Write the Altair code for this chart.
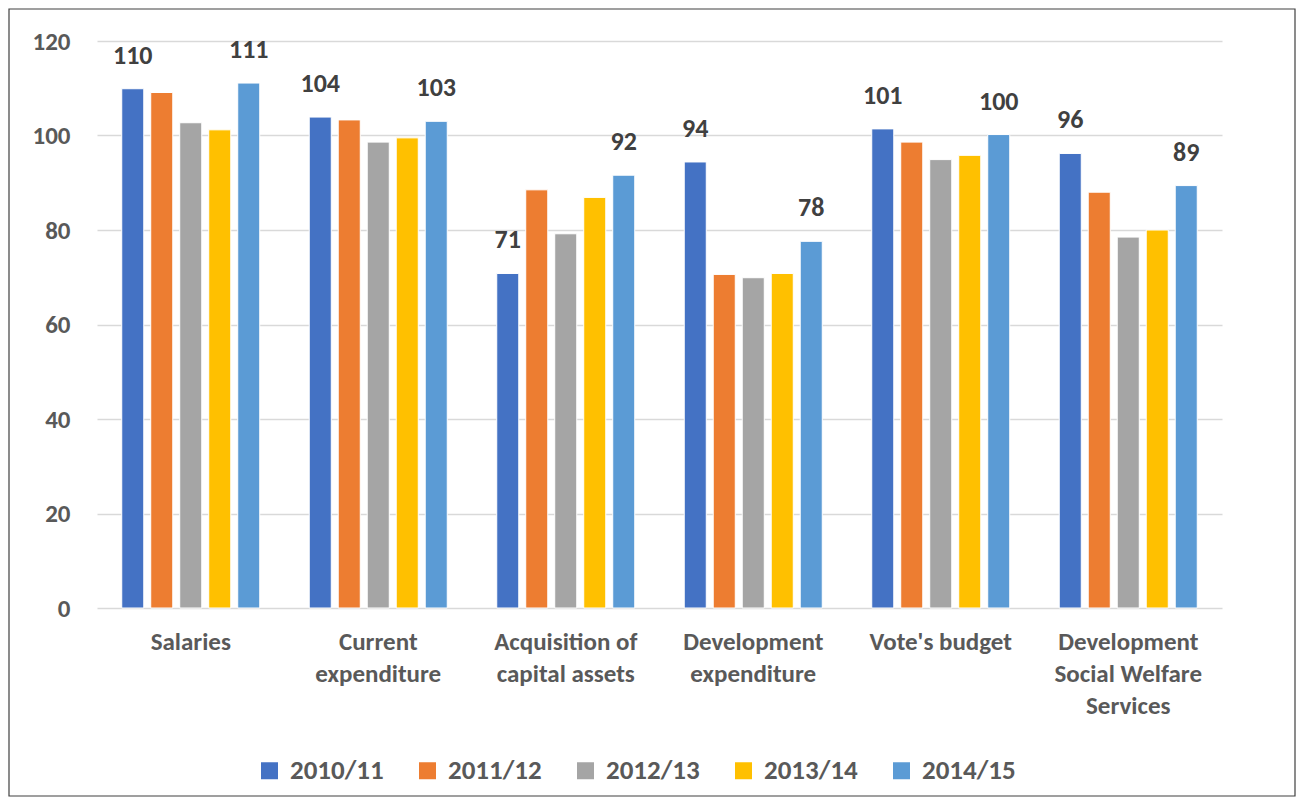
import altair as alt
import pandas as pd

categories = ["Salaries", "Current|expenditure", "Acquisition of|capital assets",
              "Development|expenditure", "Vote's budget", "Development|Social Welfare|Services"]
series = ["2010/11", "2011/12", "2012/13", "2013/14", "2014/15"]
v2010 = [109.9, 103.9, 70.8, 94.4, 101.4, 96.2]
v2011 = [109.1, 103.3, 88.5, 70.6, 98.6, 88.0]
v2012 = [102.7, 98.6, 79.2, 69.9, 94.9, 78.5]
v2013 = [101.2, 99.5, 86.9, 70.8, 95.8, 80.0]
v2014 = [111.1, 103.0, 91.6, 77.6, 100.2, 89.4]
labelled = ["2010/11", "2014/15"]
colors = ["#4472C4", "#ED7D31", "#A5A5A5", "#FFC000", "#5B9BD5"]

rows = []
for s, vals in zip(series, [v2010, v2011, v2012, v2013, v2014]):
    for c, v in zip(categories, vals):
        rows.append({"category": c, "series": s, "value": v})
df = pd.DataFrame(rows)

FONT = "Carlito, Calibri, Lato, Liberation Sans, sans-serif"
W, H = 1125, 567
PL, PT, PR, PB = 89, 33, 74, 189

base = alt.Chart(df).encode(
    x=alt.X("category:N", sort=categories, title=None,
            scale=alt.Scale(paddingInner=0, paddingOuter=0),
            axis=alt.Axis(labelExpr="split(datum.label, '|')", labelAngle=0,
                          labelFont=FONT, labelFontSize=25, labelFontWeight="bold",
                          labelColor="#595959", labelPadding=21, labelLineHeight=32,
                          domain=False, ticks=False, labelBaseline="top")),
    xOffset=alt.XOffset("series:N", sort=series,
                        scale=alt.Scale(paddingInner=0.24, paddingOuter=0.853)),
    y=alt.Y("value:Q", title=None,
            scale=alt.Scale(domain=[0, 120], nice=False),
            axis=alt.Axis(values=[0, 20, 40, 60, 80, 100, 120], labelFont=FONT,
                          labelFontSize=25, labelFontWeight="bold", labelColor="#595959",
                          labelPadding=27, domain=False, ticks=False,
                          gridColor="#D9D9D9", gridWidth=1.5)),
)

bars = base.mark_bar(stroke="white", strokeWidth=1).encode(
    color=alt.Color("series:N", sort=series,
                    scale=alt.Scale(domain=series, range=colors),
                    legend=alt.Legend(title=None, orient="none", direction="horizontal",
                                      legendX=159, legendY=716, symbolType="square",
                                      symbolSize=289, symbolStrokeWidth=0,
                                      labelFont=FONT, labelFontSize=27,
                                      labelFontWeight="bold", labelColor="#595959",
                                      columnPadding=30, symbolOffset=0, labelOffset=7))
)

text = base.transform_filter(
    alt.FieldOneOfPredicate(field="series", oneOf=labelled)
).mark_text(baseline="bottom", dy=-20, font=FONT, fontSize=26, fontWeight="bold",
            color="#404040").encode(text=alt.Text("value:Q", format=".0f"))

border = alt.Chart(pd.DataFrame({"a": [0]})).mark_rect(
    fill=None, stroke="#404040", strokeWidth=1.2
).encode(x=alt.value(-PL + 1), x2=alt.value(W + PR - 1),
         y=alt.value(-PT + 1), y2=alt.value(H + PB - 1))

chart = alt.layer(bars, text, border).properties(
    width=W, height=H,
    autosize=alt.AutoSizeParams(type="none"),
    padding={"left": PL, "top": PT, "right": PR, "bottom": PB},
).configure_view(stroke=None)

chart.save("out.html", embed_options={"renderer": "svg", "actions": False})
